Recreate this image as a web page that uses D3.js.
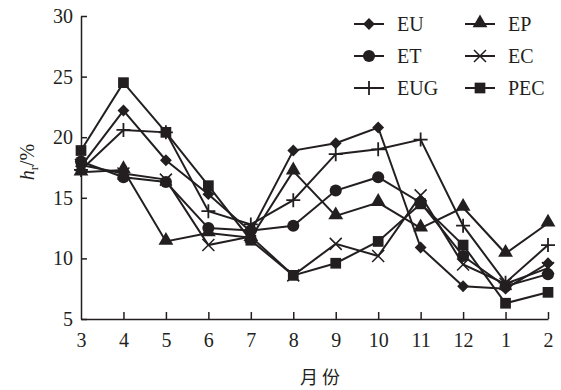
<!DOCTYPE html>
<html>
<head>
<meta charset="utf-8">
<script src="https://cdn.jsdelivr.net/npm/d3@7"></script>
<style>
  body { margin: 0; background: #fff; }
  svg text { font-family: "Liberation Serif", "DejaVu Serif", "Times New Roman", serif; fill: #231f20; }
</style>
</head>
<body>
<script>
var months = ['3','4','5','6','7','8','9','10','11','12','1','2'];
var yTicks = [5,10,15,20,25,30];

var EU  = [17.6, 22.2, 18.1, 15.3, 12.2, 18.9, 19.5, 20.8, 10.9, 7.7, 7.5, 9.6];
var EP  = [17.1, 17.3, 11.4, 12.1, 11.7, 17.2, 13.5, 14.6, 12.5, 14.2, 10.4, 12.9];
var ET  = [18.0, 16.7, 16.3, 12.5, 12.3, 12.7, 15.6, 16.7, 14.6, 10.2, 7.7, 8.7];
var EC  = [17.7, 17.0, 16.5, 11.1, 11.8, 8.6, 11.2, 10.2, 15.2, 9.5, 7.9, 9.2];
var EUG = [17.3, 20.6, 20.4, 13.9, 12.8, 14.8, 18.6, 19.0, 19.8, 12.7, 8.0, 11.1];
var PEC = [18.9, 24.5, 20.4, 16.0, 11.5, 8.6, 9.6, 11.4, 14.5, 11.1, 6.3, 7.2];

var series = [
  {name:'EU', values:EU, mark:'diamond'},
  {name:'EP', values:EP, mark:'triangle'},
  {name:'ET', values:ET, mark:'circle'},
  {name:'EC', values:EC, mark:'x'},
  {name:'EUG', values:EUG, mark:'plus'},
  {name:'PEC', values:PEC, mark:'square'}
];

var ink = '#231f20';
var serif = '"Liberation Serif", "DejaVu Serif", "Times New Roman", serif';
var svg = d3.select('body').append('svg').attr('width',561).attr('height',390);

var x = d3.scalePoint().domain(months).range([81,548]);
var y = d3.scaleLinear().domain([5,30]).range([319,16]);

// axes, ticks pointing inward
var xAxis = svg.append('g').attr('transform','translate(0,319)')
  .call(d3.axisBottom(x).tickSizeInner(-7).tickSizeOuter(0).tickPadding(14));
var yAxis = svg.append('g').attr('transform','translate(81,0)')
  .call(d3.axisLeft(y).tickValues(yTicks).tickSizeInner(-6).tickSizeOuter(0).tickPadding(8));

[xAxis,yAxis].forEach(function(a){
  a.attr('font-family',serif).attr('font-size',20);
  a.select('.domain').attr('stroke',ink).attr('stroke-width',1.5);
  a.selectAll('.tick line').attr('stroke',ink).attr('stroke-width',1.5);
  a.selectAll('.tick text').attr('fill',ink);
});
xAxis.selectAll('.tick').filter(function(d){return d=='3';}).select('line').remove();

// axis titles
svg.append('text').attr('x',320).attr('y',384).attr('text-anchor','middle')
  .style('font-family','"Noto Sans CJK SC", sans-serif').style('font-size','18px')
  .text('月 份');

var yl = svg.append('text').attr('transform','translate(34,162) rotate(-90)')
  .attr('text-anchor','middle').attr('font-family',serif).attr('font-size',20);
yl.append('tspan').style('font-style','italic').text('h');
yl.append('tspan').attr('dy',4).attr('font-size',13).text('r');
yl.append('tspan').attr('dy',-4).text('/%');

// marker drawing
var drawMark = function(g, mark, cx, cy){
  if(mark=='x'){
    g.append('path').attr('d','M'+(cx-6)+','+(cy-6)+'L'+(cx+6)+','+(cy+6)+'M'+(cx-6)+','+(cy+6)+'L'+(cx+6)+','+(cy-6))
      .attr('stroke',ink).attr('stroke-width',1.5).attr('fill','none');
  } else if(mark=='plus'){
    g.append('path').attr('d','M'+cx+','+(cy-7)+'L'+cx+','+(cy+7)+'M'+(cx-7)+','+cy+'L'+(cx+7)+','+cy)
      .attr('stroke',ink).attr('stroke-width',1.8).attr('fill','none');
  } else if(mark=='diamond'){
    g.append('path').attr('d',d3.symbol().type(d3.symbolSquare).size(70)())
      .attr('transform','translate('+cx+','+cy+') rotate(45)')
      .attr('fill',ink);
  } else {
    var type = {triangle:d3.symbolTriangle, circle:d3.symbolCircle, square:d3.symbolSquare}[mark];
    var size = {triangle:95, circle:115, square:115}[mark];
    g.append('path').attr('d',d3.symbol().type(type).size(size)())
      .attr('transform','translate('+cx+','+(mark=='triangle'?cy-1:cy)+')')
      .attr('fill',ink);
  }
};

var line = d3.line().x(function(d,i){return x(months[i]);}).y(function(d){return y(d);});

series.forEach(function(s){
  var g = svg.append('g');
  g.append('path').datum(s.values).attr('d',line)
    .attr('fill','none').attr('stroke',ink).attr('stroke-width',2);
  s.values.forEach(function(v,i){
    drawMark(g, s.mark, x(months[i]), y(v));
  });
});

// legend
var legendPos = [
  {name:'EU', col:0, row:0}, {name:'EP', col:1, row:0},
  {name:'ET', col:0, row:1}, {name:'EC', col:1, row:1},
  {name:'EUG', col:0, row:2}, {name:'PEC', col:1, row:2}
];
legendPos.forEach(function(l){
  var s = series.filter(function(d){return d.name==l.name;})[0];
  var lx = 354 + l.col*111;
  var ly = 24 + l.row*32;
  var g = svg.append('g');
  g.append('line').attr('x1',lx).attr('x2',lx+30).attr('y1',ly).attr('y2',ly)
    .attr('stroke',ink).attr('stroke-width',2);
  drawMark(g, s.mark, lx+15, ly);
  g.append('text').attr('x',lx+43).attr('y',ly+7).attr('font-family',serif).attr('font-size',20).text(l.name);
});
</script>
</body>
</html>
